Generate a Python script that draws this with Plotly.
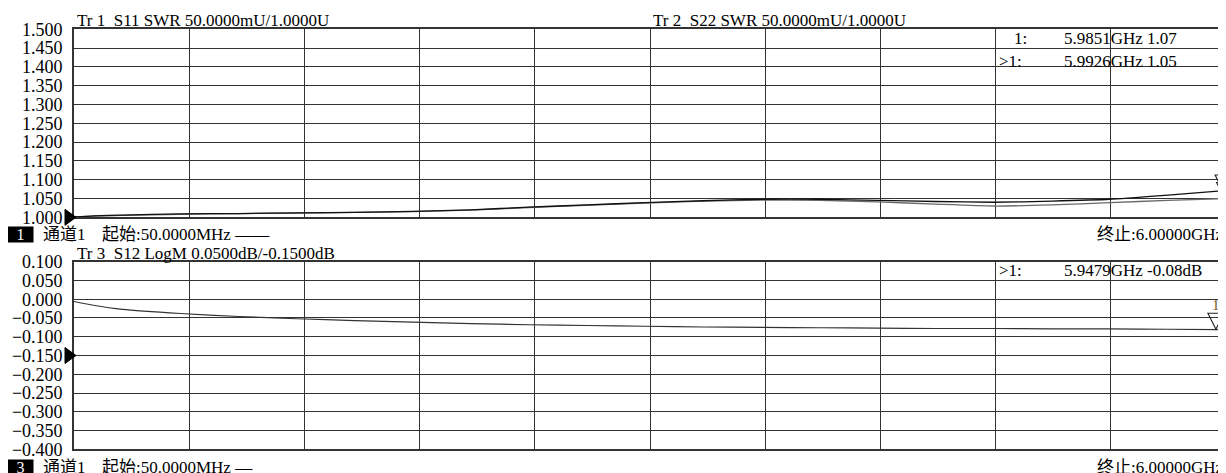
import plotly.graph_objects as go

# ---------------- data ----------------
start_ghz = 0.05
stop_ghz = 6.0
freq = [0.05, 0.15, 0.3, 0.6, 0.9, 1.2, 1.5, 1.8, 2.1, 2.4, 2.7, 3.0,
        3.3, 3.6, 3.9, 4.2, 4.5, 4.8, 5.1, 5.4, 5.7, 6.0]
s11_swr = [1.001, 1.004, 1.006, 1.009, 1.010, 1.012, 1.013, 1.016, 1.020, 1.027, 1.033, 1.039,
           1.044, 1.048, 1.048, 1.045, 1.042, 1.040, 1.043, 1.048, 1.059, 1.071]
s22_swr = [1.001, 1.003, 1.005, 1.008, 1.010, 1.011, 1.013, 1.015, 1.019, 1.026, 1.032, 1.038,
           1.043, 1.046, 1.045, 1.041, 1.035, 1.030, 1.033, 1.039, 1.045, 1.050]
s12_db = [-0.006, -0.016, -0.027, -0.038, -0.046, -0.052, -0.057, -0.061, -0.065, -0.068, -0.070, -0.072,
          -0.074, -0.075, -0.076, -0.077, -0.078, -0.078, -0.079, -0.079, -0.080, -0.081]

top_ref = 1.0
bot_ref = -0.15
top_range = [1.0, 1.5]
bot_range = [-0.4, 0.1]
top_ticks = [1.0 + 0.05 * i for i in range(11)]
bot_ticks = [-0.4 + 0.05 * i for i in range(11)]
top_ticktext = ["%.3f" % v for v in top_ticks]
bot_ticktext = [("\u2212%.3f" % abs(v)) if v < -1e-9 else "%.3f" % abs(v) for v in bot_ticks]

mk_top_freq = [5.9851, 5.9926]
mk_top_val = [1.07, 1.05]
mk_bot_freq = [5.9479]
mk_bot_val = [-0.08]

title_tr1 = "Tr 1  S11 SWR 50.0000mU/1.0000U"
title_tr2 = "Tr 2  S22 SWR 50.0000mU/1.0000U"
title_tr3 = "Tr 3  S12 LogM 0.0500dB/-0.1500dB"

# ---------------- figure ----------------
# page body has an 8px margin: the figure is drawn from (8, 8) in the window
OFF = 8
WIN_W, WIN_H = 1226, 473
W, H = WIN_W - OFF, WIN_H - OFF
L = 74 - OFF
PW = W - L


def px(x):  # window pixel -> paper x
    return (x - OFF - L) / PW


def py(y):  # window pixel -> paper y
    return (H - (y - OFF)) / H


FONT = "Liberation Serif, Noto Sans CJK SC, serif"
GRID = "#333333"

fig = go.Figure()
fig.add_trace(go.Scatter(x=freq, y=s22_swr, mode="lines",
                         line=dict(color="#6a6a6a", width=1.3, shape="spline", smoothing=0.5),
                         xaxis="x", yaxis="y", hoverinfo="skip"))
fig.add_trace(go.Scatter(x=freq, y=s11_swr, mode="lines",
                         line=dict(color="#111111", width=1.3, shape="spline", smoothing=0.5),
                         xaxis="x", yaxis="y", hoverinfo="skip"))
fig.add_trace(go.Scatter(x=freq, y=s12_db, mode="lines",
                         line=dict(color="#333333", width=1.2, shape="spline", smoothing=0.5),
                         xaxis="x2", yaxis="y2", hoverinfo="skip"))

xticks = [start_ghz + i * (stop_ghz - start_ghz) / 10 for i in range(11)]
xax = dict(range=[start_ghz, stop_ghz], tickvals=xticks, showticklabels=False, ticks="",
           showgrid=True, gridcolor=GRID, gridwidth=1.4, zeroline=False, automargin=False,
           showline=True, mirror=True, linecolor=GRID, linewidth=1.6, fixedrange=True)
yax = dict(showgrid=True, gridcolor=GRID, gridwidth=1.4, zeroline=False, ticks="", automargin=False,
           showline=True, mirror=True, linecolor=GRID, linewidth=1.6,
           tickfont=dict(family=FONT, size=18, color="#000"), ticklabelstandoff=6, fixedrange=True)

fig.update_layout(
    template="none",
    width=W, height=H, autosize=False,
    margin=dict(l=L, r=0, t=0, b=0, pad=0, autoexpand=False),
    paper_bgcolor="white", plot_bgcolor="white",
    showlegend=False,
    xaxis=dict(xax, domain=[0, 1], anchor="y"),
    xaxis2=dict(xax, domain=[0, 1], anchor="y2"),
    yaxis=dict(yax, domain=[py(217.3), py(29.3)], range=top_range, tickvals=top_ticks,
               ticktext=top_ticktext, anchor="x"),
    yaxis2=dict(yax, domain=[py(449.3), py(261.7)], range=bot_range, tickvals=bot_ticks,
                ticktext=bot_ticktext, anchor="x2"),
)

shapes = []
# reference level triangles (filled, left edge)
for xd, yd, ref, rng in (("x domain", "y domain", top_ref, top_range),
                         ("x2 domain", "y2 domain", bot_ref, bot_range)):
    shapes.append(dict(type="path", xref=xd, yref=yd,
                       xsizemode="pixel", ysizemode="pixel", xanchor=0,
                       yanchor=(ref - rng[0]) / (rng[1] - rng[0]),
                       path="M-9,8 L2,0 L-9,-8 Z", fillcolor="black", line=dict(color="black", width=1)))


def marker_shape(xd, yd, f, v, rng):
    return dict(type="path", xref=xd, yref=yd, xsizemode="pixel", ysizemode="pixel",
                xanchor=(f - start_ghz) / (stop_ghz - start_ghz),
                yanchor=(v - rng[0]) / (rng[1] - rng[0]),
                path="M-8,16 L8,16 L0,0 Z", line=dict(color="#222", width=1.1))


annotations = []
for (xd, yd, fs, vs, rng, col) in (("x domain", "y domain", mk_top_freq, mk_top_val, top_range, "#8a6a1a"),
                                   ("x2 domain", "y2 domain", mk_bot_freq, mk_bot_val, bot_range, "#7a5a2a")):
    for f, v in zip(fs, vs):
        shapes.append(marker_shape(xd, yd, f, v, rng))
        annotations.append(dict(xref=xd, yref=yd, x=(f - start_ghz) / (stop_ghz - start_ghz),
                                y=(v - rng[0]) / (rng[1] - rng[0]), yshift=14,
                                xanchor="center", yanchor="bottom", text="1", showarrow=False,
                                font=dict(family=FONT, size=15, color=col)))


def txt(x, y, s, anchor="left", size=17, color="#000", **kw):
    d = dict(xref="paper", yref="paper", x=px(x), y=py(y), text=s, showarrow=False,
             xanchor=anchor, yanchor="middle", font=dict(family=FONT, size=size, color=color))
    d.update(kw)
    annotations.append(d)


# trace titles
txt(75, 21, title_tr1)
txt(651, 21, title_tr2)
txt(75, 253, title_tr3)

# marker readouts
txt(1012, 38, "1:")
txt(1062, 38, "%.4fGHz %.2f" % (mk_top_freq[0], mk_top_val[0]))
txt(997, 61, ">1:")
txt(1062, 61, "%.4fGHz %.2f" % (mk_top_freq[1], mk_top_val[1]))
txt(997, 270, ">1:")
txt(1062, 270, "%.4fGHz %.2fdB" % (mk_bot_freq[0], mk_bot_val[0]))

# channel lines
start_txt = "起始:%.4fMHz" % (start_ghz * 1000)
stop_txt = "终止:%.5fGHz" % stop_ghz
for ch, yc, dash in (("1", 234.5, "——"), ("3", 467, "—")):
    txt(20.5, yc, ch, anchor="center", size=16, color="white", bgcolor="black",
        width=23, height=13, borderpad=1)
    txt(41, yc, "通道1")
    txt(100, yc, start_txt + " " + dash)
    txt(1226, yc, stop_txt, anchor="right")

fig.update_layout(shapes=shapes, annotations=annotations)
fig.write_html("out.html")
